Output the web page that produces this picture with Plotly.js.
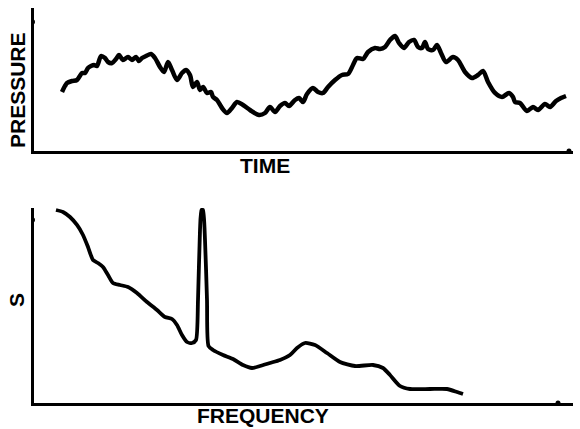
<!DOCTYPE html>
<html>
<head>
<meta charset="utf-8">
<script src="https://cdn.plot.ly/plotly-3.0.1.min.js"></script>
<style>html,body{margin:0;padding:0;background:#fff;}#chart{width:580px;height:429px;}</style>
</head>
<body>
<div id="chart"></div>
<script>
// Top panel: pressure vs time (arbitrary units)
const time = [28,31,33,38,43,48,51,54,57,60,63,67,71,74,78,82,85,89,94,98,102,105,108,112,117,121,126,130,134,138,143,148,152,156,159,163,166,169,173,177,179,183,188,193,198,203,209,216,225,231,236,241,246,251,255,261,265,269,273,279,284,289,294,301,308,314,319,323,329,334,341,346,351,356,361,365,370,375,380,384,388,391,394,399,403,407,412,419,424,431,438,444,449,454,461,468,475,479,481,486,493,499,504,511,516,522,527,532];
const pressure = [59,65,68,70,71,78,78,83,85,86,85,95,93,89,88,92,96,91,94,91,94,90,93,95,97,93,84,79,89,81,71,78,81,76,64,69,61,64,58,59,54,51,43,38,43,49,46,41,36,38,44,39,45,48,45,51,53,49,57,63,59,58,64,71,76,77,86,93,92,99,103,102,104,111,115,108,103,109,111,104,103,109,102,101,106,98,89,94,91,79,73,76,80,69,58,54,58,54,49,48,40,44,41,47,44,50,53,55];

// Bottom panel: spectrum S vs frequency
const frequency = [22,29,36,43,49,54,59,64,69,74,79,86,94,103,113,123,131,138,143,148,153,158,162,164,166,167.5,169,171,173,174.5,179,189,199,209,218,226,236,246,256,263,271,281,293,306,321,339,349,356,366,376,396,413,423,429];
const spectrum = [193,191,186,178,168,156,143,140,136,128,120,118,116,110,101,93,86,84,78,68,61,60,63,103,173,193,193,163,103,57,53,48,44,38,35,37,40,43,48,55,60,58,50,41,37,38,35,28,17,14,14,14,11,9];

// Labels
const topXLabel = 'TIME';
const topYLabel = 'PRESSURE';
const botXLabel = 'FREQUENCY';
const botYLabel = 'S';

const labelFont = {family: 'Liberation Sans, Arial, sans-serif', size: 21, color: '#000', weight: 'bold'};

const axisBase = {
  showgrid: false, zeroline: false, showticklabels: false, ticks: '',
  showline: true, linecolor: '#000', linewidth: 3, fixedrange: true
};

const traces = [
  {x: time, y: pressure, xaxis: 'x', yaxis: 'y', mode: 'lines',
   line: {color: '#000', width: 4.5, shape: 'spline', smoothing: 0.8}, hoverinfo: 'skip'},
  {x: frequency, y: spectrum, xaxis: 'x2', yaxis: 'y2', mode: 'lines',
   line: {color: '#000', width: 3.8, shape: 'spline', smoothing: 0.6}, hoverinfo: 'skip'}
];

function dot(xref, yref, xv, yv) {
  return {type: 'circle', xref: xref, yref: yref, xsizemode: 'pixel', ysizemode: 'pixel',
    xanchor: xv, yanchor: yv, x0: -2.5, x1: 2.5, y0: -2.5, y1: 2.5,
    fillcolor: '#000', line: {width: 0}};
}

const layout = {
  width: 580, height: 429,
  margin: {l: 34, r: 7, t: 8, b: 26},
  paper_bgcolor: '#fff', plot_bgcolor: '#fff',
  showlegend: false,
  xaxis: Object.assign({}, axisBase, {domain: [0, 1], range: [0, 539], anchor: 'y'}),
  yaxis: Object.assign({}, axisBase, {domain: [0.638, 1], range: [0, 143], anchor: 'x'}),
  xaxis2: Object.assign({}, axisBase, {domain: [0, 1], range: [0, 539], anchor: 'y2'}),
  yaxis2: Object.assign({}, axisBase, {domain: [0, 0.4937], range: [0, 195], anchor: 'x2'}),
  shapes: [
    dot('x', 'y', -1.5, 129),
    dot('x', 'y', 535, 0),
    dot('x2', 'y2', -1.5, 183),
    dot('x2', 'y2', 524, 0)
  ],
  annotations: [
    {text: topXLabel, xref: 'paper', yref: 'paper', x: 0.4286, y: 0.6025, xanchor: 'center', yanchor: 'middle', showarrow: false, font: labelFont},
    {text: botXLabel, xref: 'paper', yref: 'paper', x: 0.4249, y: -0.0304, xanchor: 'center', yanchor: 'middle', showarrow: false, font: labelFont},
    {text: topYLabel, xref: 'paper', yref: 'paper', x: -0.0315, y: 0.7924, xanchor: 'center', yanchor: 'middle', textangle: -90, showarrow: false, font: labelFont},
    {text: botYLabel, xref: 'paper', yref: 'paper', x: -0.0315, y: 0.2608, xanchor: 'center', yanchor: 'middle', textangle: -90, showarrow: false, font: labelFont}
  ]
};

Plotly.newPlot('chart', traces, layout, {staticPlot: true, displayModeBar: false});
</script>
</body>
</html>
